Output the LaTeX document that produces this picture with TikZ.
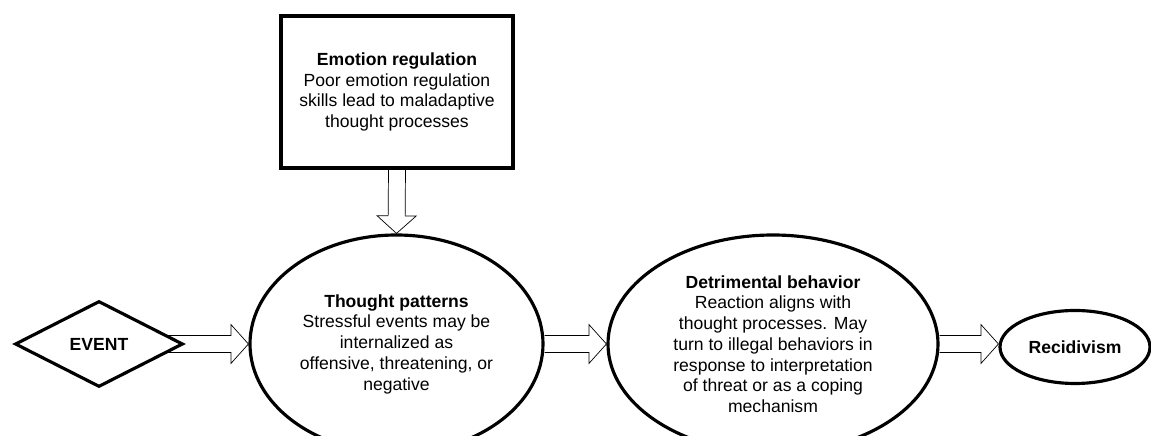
\documentclass[tikz,border=0pt]{standalone}
\usepackage{fontspec}
\setmainfont{Liberation Sans}
\usetikzlibrary{shapes.geometric,calc}

\tikzset{
  shapeline/.style={draw=black, line width=1.8pt, fill=white, align=center, inner sep=0pt, font=\fontsize{10}{11.8}\selectfont},
  hollow/.style={line width=1.4pt, line join=miter, to path={
    ($(\tikztostart)!0.17cm!90:(\tikztotarget)$)
    -- ($(\tikztotarget)!0.35cm!(\tikztostart)!0.17cm!-90:(\tikztostart)$)
    -- ($(\tikztotarget)!0.35cm!(\tikztostart)!0.39cm!-90:(\tikztostart)$)
    -- (\tikztotarget)
    -- ($(\tikztotarget)!0.35cm!(\tikztostart)!0.39cm!90:(\tikztostart)$)
    -- ($(\tikztotarget)!0.35cm!(\tikztostart)!0.17cm!90:(\tikztostart)$)
    -- ($(\tikztostart)!0.17cm!-90:(\tikztotarget)$)}}
}

\begin{document}
\begin{tikzpicture}
  \useasboundingbox (0,0) rectangle (23.02,8.72); %Area
  \clip (0,0) rectangle (23.02,8.72);
    %Formas
  \node[shapeline, rectangle, minimum width=4.64cm, minimum height=3.04cm] (emo) at (7.94,6.88)
    {\textbf{Emotion regulation}\\Poor emotion regulation\\skills lead to maladaptive\\thought processes}; %Caixa
  \node[shapeline, diamond, minimum width=3.36cm, minimum height=1.72cm] (ev) at (1.98,1.84) {\textbf{EVENT}}; %Losango
  \node[shapeline, ellipse, minimum width=5.86cm, minimum height=4.36cm] (th) at (7.93,1.84)
    {\textbf{Thought patterns}\\Stressful events may be\\internalized as\\offensive, threatening, or\\negative}; %Elipse 1
  \node[shapeline, ellipse, minimum width=6.6cm, minimum height=4.36cm] (dt) at (15.46,1.84)
    {\textbf{Detrimental behavior}\\Reaction aligns with\\thought processes. May\\turn to illegal behaviors in\\response to interpretation\\of threat or as a coping\\mechanism}; %Elipse 2
  \node[shapeline, ellipse, minimum width=3.0cm, minimum height=1.46cm] (rec) at (21.5,1.78) {\textbf{Recidivism}}; %Elipse 3
    %Setas
  \coordinate (evout) at ($(ev.east)+(-0.34,0)$);
  \coordinate (recin) at (rec.west |- dt.east);
  \draw (evout) to[hollow] (th.west); %Seta 1
  \draw (th.east) to[hollow] (dt.west); %Seta 2
  \draw (dt.east) to[hollow] (recin); %Seta 3
  \draw (emo.south) to[hollow] (th.north); %Seta 4
\end{tikzpicture}
\end{document}
